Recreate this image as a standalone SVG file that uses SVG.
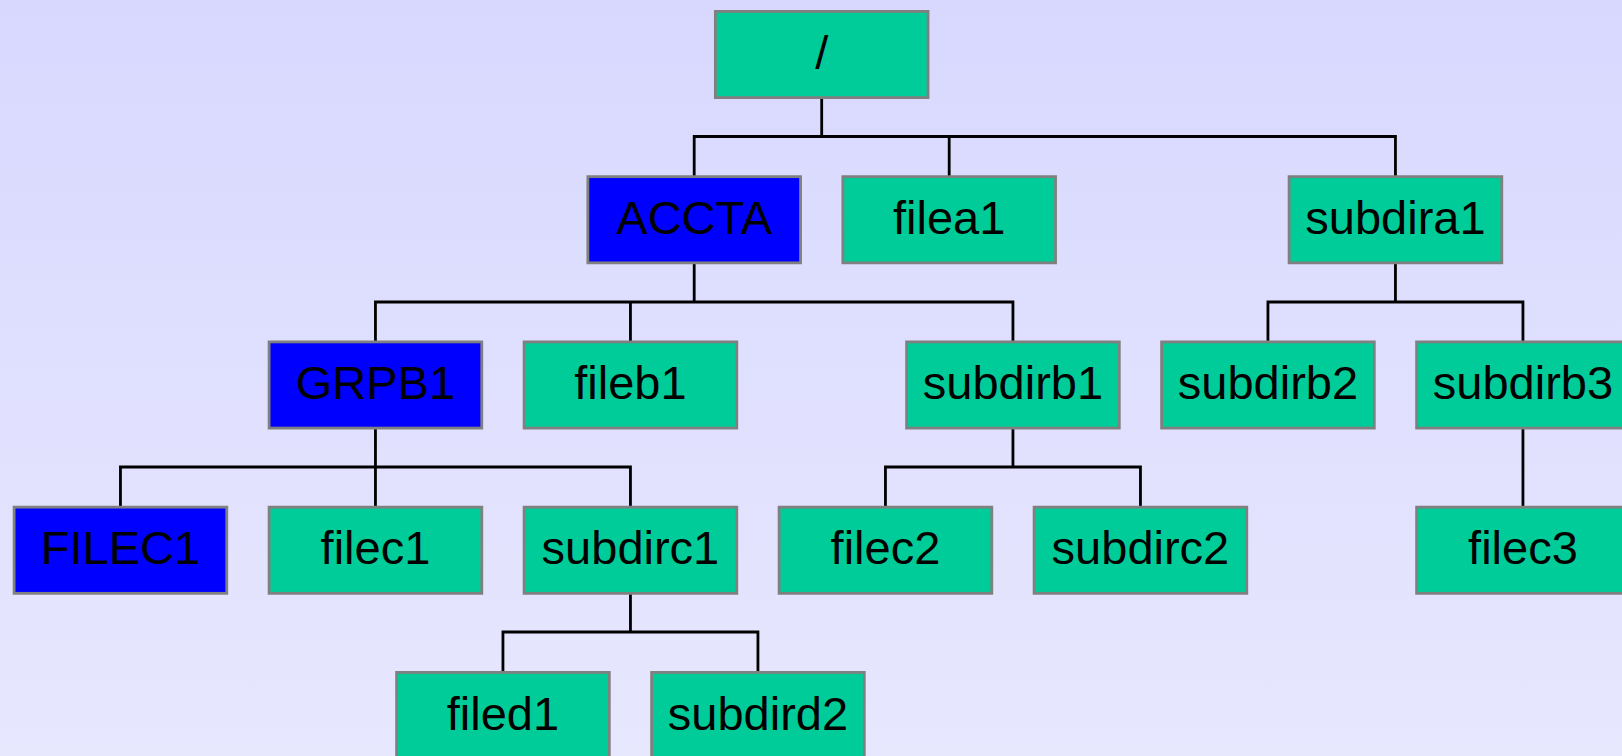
<svg xmlns="http://www.w3.org/2000/svg" width="1622" height="756" viewBox="0 0 1622 756">
<defs>
<linearGradient id="bg" x1="0" y1="0" x2="0" y2="1">
<stop offset="0" stop-color="#D8D8FF"/>
<stop offset="1" stop-color="#E7E7FE"/>
</linearGradient>
</defs>
<style>
.n rect{stroke:#808080;stroke-width:2.8}
.g rect{fill:#00CC99}
.b rect{fill:#0000FF}
.n text{font-family:"Liberation Sans",Arial,sans-serif;font-size:47px;fill:#000;text-anchor:middle}
#connectors path{fill:none;stroke:#000;stroke-width:2.8;stroke-linecap:square}
</style>
<rect x="0" y="0" width="1622" height="756" fill="url(#bg)"/>
<g id="connectors">
<path d="M821.7 99V136.5M694.2 136.5H1395.45M694.2 136.5V175.25M949.2 136.5V175.25M1395.45 136.5V175.25"/>
<path d="M694.2 264.25V302M375.45 302H1012.95M375.45 302V340.5M630.45 302V340.5M1012.95 302V340.5"/>
<path d="M1395.45 264.25V302M1267.95 302H1522.95M1267.95 302V340.5M1522.95 302V340.5"/>
<path d="M375.45 429.5V467M120.45 467H630.45M120.45 467V505.75M375.45 467V505.75M630.45 467V505.75"/>
<path d="M1012.95 429.5V467M885.45 467H1140.45M885.45 467V505.75M1140.45 467V505.75"/>
<path d="M1522.95 429.5V505.75"/>
<path d="M630.45 594.75V632M502.95 632H757.95M502.95 632V671M757.95 632V671"/>
</g>
<g id="root" class="n g"><rect x="715.35" y="11.4" width="212.7" height="86.2"/><text x="821.7" y="68.5">/</text></g>
<g id="accta" class="n b"><rect x="587.85" y="176.65" width="212.7" height="86.2"/><text x="694.2" y="233.75">ACCTA</text></g>
<g id="filea1" class="n g"><rect x="842.85" y="176.65" width="212.7" height="86.2"/><text x="949.2" y="233.75">filea1</text></g>
<g id="subdira1" class="n g"><rect x="1289.1" y="176.65" width="212.7" height="86.2"/><text x="1395.45" y="233.75">subdira1</text></g>
<g id="grpb1" class="n b"><rect x="269.1" y="341.9" width="212.7" height="86.2"/><text x="375.45" y="399">GRPB1</text></g>
<g id="fileb1" class="n g"><rect x="524.1" y="341.9" width="212.7" height="86.2"/><text x="630.45" y="399">fileb1</text></g>
<g id="subdirb1" class="n g"><rect x="906.6" y="341.9" width="212.7" height="86.2"/><text x="1012.95" y="399">subdirb1</text></g>
<g id="subdirb2" class="n g"><rect x="1161.6" y="341.9" width="212.7" height="86.2"/><text x="1267.95" y="399">subdirb2</text></g>
<g id="subdirb3" class="n g"><rect x="1416.6" y="341.9" width="212.7" height="86.2"/><text x="1522.95" y="399">subdirb3</text></g>
<g id="filec1u" class="n b"><rect x="14.1" y="507.15" width="212.7" height="86.2"/><text x="120.45" y="564.25">FILEC1</text></g>
<g id="filec1" class="n g"><rect x="269.1" y="507.15" width="212.7" height="86.2"/><text x="375.45" y="564.25">filec1</text></g>
<g id="subdirc1" class="n g"><rect x="524.1" y="507.15" width="212.7" height="86.2"/><text x="630.45" y="564.25">subdirc1</text></g>
<g id="filec2" class="n g"><rect x="779.1" y="507.15" width="212.7" height="86.2"/><text x="885.45" y="564.25">filec2</text></g>
<g id="subdirc2" class="n g"><rect x="1034.1" y="507.15" width="212.7" height="86.2"/><text x="1140.45" y="564.25">subdirc2</text></g>
<g id="filec3" class="n g"><rect x="1416.6" y="507.15" width="212.7" height="86.2"/><text x="1522.95" y="564.25">filec3</text></g>
<g id="filed1" class="n g"><rect x="396.6" y="672.4" width="212.7" height="86.2"/><text x="502.95" y="729.5">filed1</text></g>
<g id="subdird2" class="n g"><rect x="651.6" y="672.4" width="212.7" height="86.2"/><text x="757.95" y="729.5">subdird2</text></g>
</svg>
